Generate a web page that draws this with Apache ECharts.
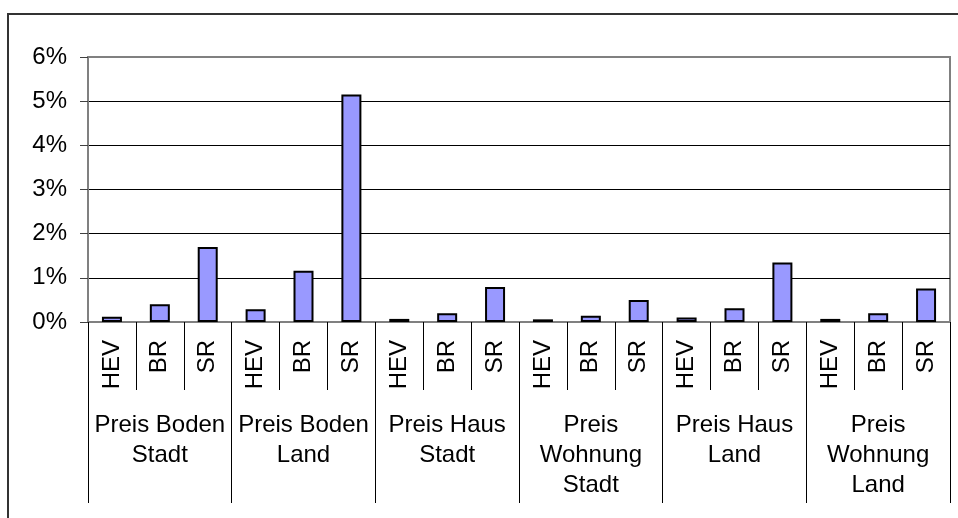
<!DOCTYPE html>
<html>
<head>
<meta charset="utf-8">
<script src="https://cdn.jsdelivr.net/npm/echarts@6/dist/echarts.min.js"></script>
<style>
  html, body { margin: 0; padding: 0; background: #fff; }
  #chart { width: 958px; height: 518px; }
</style>
</head>
<body>
<div id="chart"></div>
<script>
// Growth groups (outer axis level) and the three measures inside each group
const groups = [
  'Preis Boden\nStadt',
  'Preis Boden\nLand',
  'Preis Haus\nStadt',
  'Preis\nWohnung\nStadt',
  'Preis Haus\nLand',
  'Preis\nWohnung\nLand'
];
const measures = ['HEV', 'BR', 'SR'];

// Values in percent, ordered HEV, BR, SR for every group
const valBodenStadt   = [0.12, 0.40, 1.70];
const valBodenLand    = [0.29, 1.16, 5.15];
const valHausStadt    = [0.07, 0.20, 0.79];
const valWohnungStadt = [0.06, 0.14, 0.50];
const valHausLand     = [0.10, 0.31, 1.35];
const valWohnungLand  = [0.07, 0.20, 0.76];

const yTicks = [0, 1, 2, 3, 4, 5, 6];

const categories = groups.flatMap(() => measures);
const values = [].concat(valBodenStadt, valBodenLand, valHausStadt,
                         valWohnungStadt, valHausLand, valWohnungLand);

// Gridlines are black; the one at the top edge stays grey like the plot frame
const gridColors = yTicks.map((t, i) => (i === yTicks.length - 1 ? '#808080' : '#000000'));

const FONT = "'Liberation Sans', Arial, sans-serif";
const chart = echarts.init(document.getElementById('chart'), null, { renderer: 'canvas' });

chart.setOption({
  animation: false,
  backgroundColor: '#ffffff',
  graphic: [{
    type: 'rect',
    shape: { x: 8, y: 14, width: 1000, height: 600 },
    style: { fill: 'none', stroke: '#333333', lineWidth: 2 },
    silent: true,
    z: -10
  }],
  grid: {
    left: 88, top: 57, right: 8, bottom: 196,
    show: true,
    borderColor: '#808080',
    borderWidth: 2,
    backgroundColor: 'transparent'
  },
  xAxis: [{
    type: 'category',
    data: categories,
    position: 'bottom',
    axisLine: { show: true, lineStyle: { color: '#808080', width: 2 } },
    axisTick: { show: true, interval: 0, length: 68, lineStyle: { color: '#000', width: 1 } },
    axisLabel: {
      interval: 0, rotate: 90, margin: 18,
      color: '#000', fontFamily: FONT, fontSize: 24
    },
    splitLine: { show: false }
  }, {
    type: 'category',
    data: groups,
    position: 'bottom',
    axisLine: { show: false },
    axisTick: { show: true, interval: 0, length: 181, lineStyle: { color: '#000', width: 1 } },
    axisLabel: {
      interval: 0, margin: 88,
      color: '#000', fontFamily: FONT, fontSize: 24, lineHeight: 30,
      align: 'center', verticalAlign: 'top'
    },
    splitLine: { show: false }
  }],
  yAxis: {
    type: 'value',
    min: yTicks[0],
    max: yTicks[yTicks.length - 1],
    interval: 1,
    axisLine: { show: true, lineStyle: { color: '#808080', width: 2 } },
    axisTick: { show: true, length: 8, lineStyle: { color: '#404040', width: 1 } },
    axisLabel: {
      margin: 21, formatter: '{value}%',
      color: '#000', fontFamily: FONT, fontSize: 24
    },
    splitLine: { show: true, lineStyle: { color: gridColors, width: 1 } }
  },
  series: [{
    type: 'bar',
    xAxisIndex: 0,
    data: values,
    barWidth: 20,
    itemStyle: { color: '#9999ff', borderColor: '#000', borderWidth: 2 },
    z: 5
  }]
});
</script>
</body>
</html>
